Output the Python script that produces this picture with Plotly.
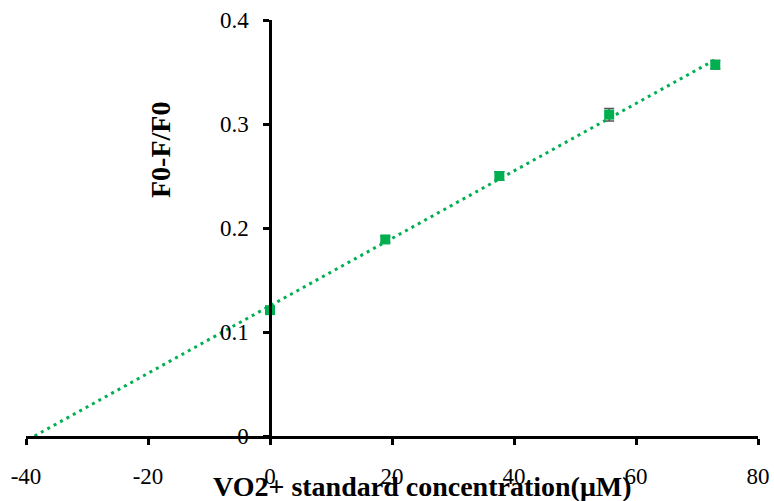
import numpy as np
import plotly.graph_objects as go

conc = [0, 18.9, 37.6, 55.6, 73.0]
ratio = [0.121, 0.189, 0.250, 0.309, 0.357]
err = [0.003, 0.003, 0.004, 0.006, 0.004]

x_ticks = [-40, -20, 0, 20, 40, 60, 80]
x_tick_text = ["-40", "-20", "0", "20", "40", "60", "80"]
y_ticks = [0, 0.1, 0.2, 0.3, 0.4]
y_tick_text = ["0", "0.1", "0.2", "0.3", "0.4"]

green = "#00B050"
serif = "Liberation Serif, Times New Roman, serif"

# linear trendline (least squares) from the data, extended back to y=0
m, b = np.polyfit(conc, ratio, 1)
tx = [-b / m, max(conc)]
ty = [m * v + b for v in tx]

fig = go.Figure()
fig.add_trace(go.Scatter(
    x=conc, y=ratio, mode="markers",
    marker=dict(symbol="square", size=10, color=green),
    error_y=dict(type="data", array=err, visible=True, color="#555555",
                 thickness=1.5, width=5),
    showlegend=False, cliponaxis=False,
))
fig.add_trace(go.Scatter(
    x=tx, y=ty, mode="lines",
    line=dict(color=green, width=3, dash="3px,4.3px"),
    showlegend=False, cliponaxis=False,
))

L, R, T, B = 26, 16, 20, 65
W, H = 774, 501
pw = W - L - R
ph = H - T - B

fig.update_layout(
    width=W, height=H,
    margin=dict(l=L, r=R, t=T, b=B, autoexpand=False),
    paper_bgcolor="white", plot_bgcolor="white",
    font=dict(family=serif, size=23, color="black"),
    xaxis=dict(
        range=[-40, 80], tickvals=x_ticks, ticktext=x_tick_text,
        showgrid=False, zeroline=False, automargin=False,
        showline=True, linecolor="black", linewidth=2.5,
        ticks="outside", ticklen=6, tickwidth=2.5, tickcolor="black",
        ticklabelstandoff=12,
        tickfont=dict(family=serif, size=23),
    ),
    yaxis=dict(
        range=[0, 0.4], tickvals=y_ticks, ticktext=y_tick_text,
        showgrid=False, zeroline=False, automargin=False,
        showline=True, linecolor="black", linewidth=2.5,
        ticks="outside", ticklen=6, tickwidth=2.5, tickcolor="black",
        ticklabelstandoff=10,
        anchor="free", position=1 / 3,
        tickfont=dict(family=serif, size=23),
    ),
    annotations=[
        dict(text="<b>VO2+ standard concentration(μM)</b>", xref="paper", yref="paper",
             x=(422 - L) / pw, y=(436 - 486) / ph, showarrow=False,
             xanchor="center", yanchor="middle",
             font=dict(family=serif, size=28, color="black")),
        dict(text="<b>F0-F/F0</b>", xref="paper", yref="paper",
             x=(160 - L) / pw, y=(436 - 150) / ph, showarrow=False, textangle=-90,
             xanchor="center", yanchor="middle",
             font=dict(family=serif, size=28, color="black")),
    ],
)

fig.write_html("out.html")
